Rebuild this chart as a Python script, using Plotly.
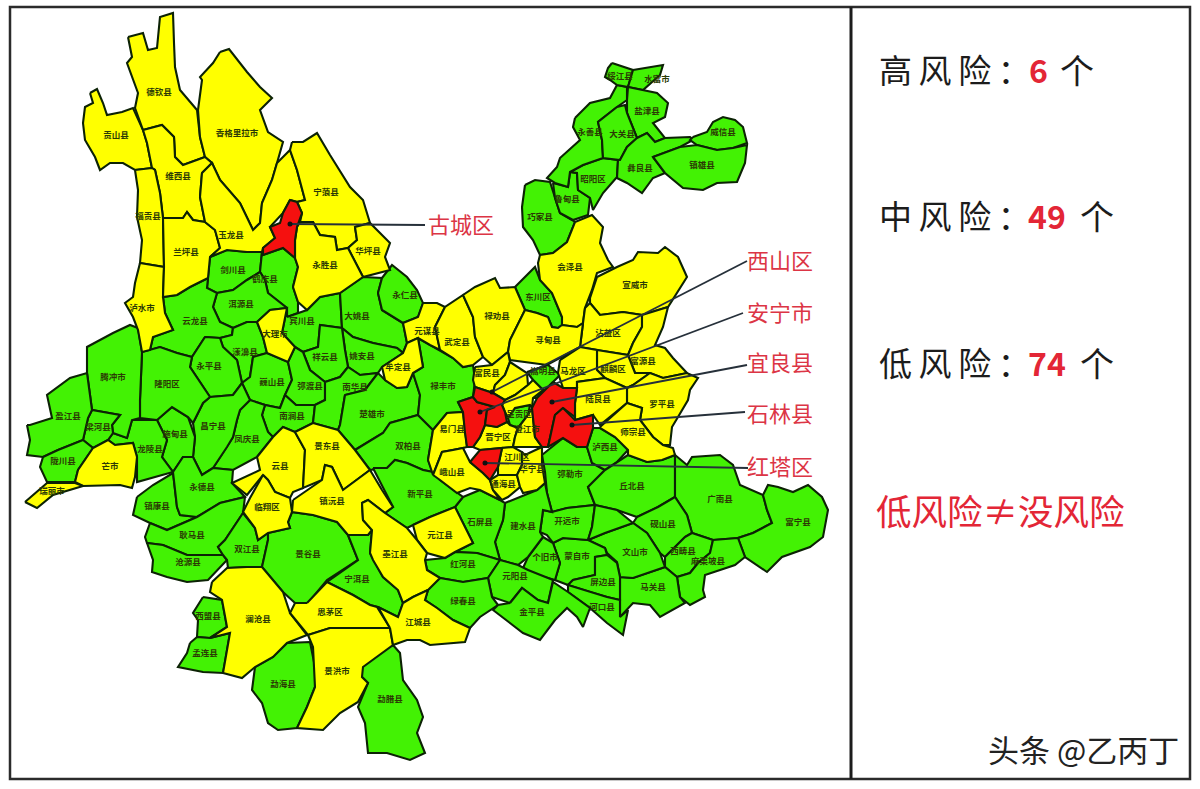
import plotly.graph_objects as go

FONT_CJK = "Noto Sans CJK SC"

RISK_COLOR = {"high": "#f5100f", "mid": "#ffff00", "low": "#43f204"}

# county outlines, in image pixels
HIGH_NAMES = ["古城区", "安宁市", "西山区", "宜良县", "石林县", "红塔区"]
HIGH_OUTLINES = [
    [(290,200),(297,202),(302,213),(297,227),(295,240),(295,258),(283,248),(277,250),(263,255),(263,248),(275,238),(270,227),(280,223),(283,213)],
    [(458,402),(473,397),(477,402),(495,407),(487,410),(485,425),(480,437),(473,447),(467,447),(465,433),(463,412)],
    [(475,387),(485,390),(493,393),(505,400),(502,405),(505,412),(507,422),(497,427),(485,425),(487,410),(495,407),(477,402),(473,397)],
    [(553,382),(563,388),(577,388),(575,403),(575,417),(563,408),(555,415),(548,447),(542,447),(535,437),(532,408),(537,398)],
    [(563,408),(575,420),(593,415),(593,428),(587,447),(577,447),(563,438),(548,447),(555,415)],
    [(470,462),(480,450),(502,448),(498,467),(490,480),(483,473)],
]

MID_NAMES = ["贡山县", "德钦县", "香格里拉市", "维西县", "福贡县", "泸水市", "兰坪县", "玉龙县", "宁蒗县", "华坪县",
             "永胜县", "大理市", "元谋县", "牟定县", "武定县", "禄劝县", "会泽县", "宣威市", "沾益区", "寻甸县",
             "富源县", "麒麟区", "马龙区", "罗平县", "陆良县", "师宗县", "富民县", "盘龙区", "官渡区", "易门县",
             "晋宁区", "澄江市", "峨山县", "通海县", "江川区", "华宁县", "芒市", "瑞丽市", "云县", "临翔区",
             "景东县", "镇沅县", "元江县", "墨江县", "澜沧县", "思茅区", "景洪市", "江城县"]
MID_OUTLINES = [
    [(90,93),(97,89),(103,103),(107,115),(122,112),(133,108),(143,130),(147,143),(152,168),(135,170),(123,163),(110,163),(100,170),(95,157),(85,140),(83,123),(85,107),(93,103)],
    [(128,37),(143,33),(148,50),(157,48),(160,17),(173,13),(174,43),(175,67),(180,90),(197,110),(200,137),(205,157),(183,165),(175,157),(174,137),(162,125),(143,130),(135,108),(138,93),(127,63),(132,57)],
    [(220,52),(229,49),(247,72),(260,87),(272,98),(260,110),(268,132),(283,142),(277,163),(272,180),(262,203),(260,223),(253,230),(240,203),(220,180),(212,163),(205,157),(200,137),(198,110),(202,80),(200,77),(213,63)],
    [(143,130),(162,125),(174,137),(175,157),(183,165),(205,157),(212,163),(202,173),(200,197),(205,222),(193,220),(187,212),(183,218),(163,218),(160,193),(155,170),(152,168),(147,143)],
    [(135,170),(152,168),(155,170),(160,193),(163,218),(164,267),(140,263),(142,240),(137,217),(138,190)],
    [(140,263),(164,267),(163,297),(165,313),(173,330),(153,337),(150,350),(142,352),(138,330),(133,317),(125,303),(133,297),(135,283)],
    [(163,218),(183,218),(187,212),(193,220),(205,222),(215,230),(220,248),(210,257),(208,278),(190,287),(177,295),(163,297),(164,267)],
    [(202,173),(212,163),(220,180),(240,203),(253,230),(260,223),(262,203),(272,180),(277,163),(290,150),(297,170),(305,200),(297,202),(290,200),(283,213),(270,227),(275,238),(263,248),(262,252),(247,252),(227,250),(210,257),(220,248),(215,230),(205,222),(200,197)],
    [(292,142),(303,142),(317,133),(330,155),(350,187),(363,200),(370,223),(355,227),(357,240),(348,248),(337,250),(335,237),(320,235),(313,222),(300,222),(302,213),(297,202),(305,200),(297,170),(290,150)],
    [(355,227),(370,223),(390,243),(385,257),(390,270),(363,277),(348,248),(357,240)],
    [(297,227),(300,222),(313,222),(320,235),(335,237),(337,250),(348,248),(363,277),(340,293),(320,297),(307,310),(298,302),(293,287),(298,267),(295,258),(295,240)],
    [(257,322),(270,310),(287,308),(282,333),(295,347),(288,362),(267,353),(263,337)],
    [(423,303),(437,303),(445,307),(435,327),(440,350),(430,345),(418,338),(407,343),(403,323),(418,317)],
    [(382,367),(403,353),(407,343),(418,338),(423,367),(413,373),(407,387),(397,388),(385,380)],
    [(435,327),(445,307),(463,295),(473,317),(475,337),(483,357),(473,365),(463,367),(453,358),(440,350)],
    [(463,295),(475,287),(495,278),(500,288),(515,287),(520,298),(525,310),(510,340),(508,352),(492,365),(483,357),(475,337),(473,317)],
    [(540,255),(553,253),(567,242),(575,222),(592,215),(603,227),(600,243),(608,260),(613,267),(597,273),(592,290),(585,308),(583,323),(577,327),(562,325),(562,317),(552,293),(540,280),(538,263)],
    [(590,298),(597,277),(617,267),(633,260),(638,252),(658,253),(665,247),(678,257),(687,277),(677,293),(668,307),(642,315),(623,312),(600,315),(590,303)],
    [(585,308),(590,303),(600,315),(623,312),(642,315),(642,327),(633,343),(628,355),(597,350),(580,347),(583,323)],
    [(525,310),(537,313),(548,317),(552,327),(558,328),(562,325),(577,327),(583,323),(580,347),(560,358),(547,365),(510,360),(508,352),(510,340)],
    [(642,315),(668,307),(663,327),(655,345),(665,348),(673,358),(687,373),(663,378),(650,373),(635,373),(628,355),(633,343),(642,327)],
    [(597,350),(628,355),(635,373),(650,373),(633,385),(627,388),(605,378),(597,370)],
    [(560,360),(580,347),(597,350),(597,370),(605,378),(577,382),(577,388),(563,388),(558,373)],
    [(650,373),(663,378),(687,373),(698,378),(690,390),(688,400),(678,417),(672,427),(670,445),(663,445),(653,437),(640,420),(642,408),(627,403),(627,388),(633,385)],
    [(577,388),(577,382),(605,378),(627,388),(627,403),(600,425),(593,415),(575,420),(575,403)],
    [(600,427),(627,403),(642,408),(640,420),(653,437),(663,445),(673,448),(675,455),(662,460),(647,462),(628,455),(628,450),(615,437),(600,428)],
    [(475,367),(492,365),(508,352),(510,362),(505,375),(495,385),(493,393),(475,387),(473,380)],
    [(510,362),(527,373),(528,385),(515,395),(505,400),(493,393),(495,385),(505,375)],
    [(528,385),(533,380),(543,390),(533,398),(532,408),(530,405),(515,408),(508,418),(505,412),(502,405),(505,400),(515,395)],
    [(433,430),(447,413),(463,412),(467,447),(463,448),(453,450),(442,452),(433,475),(428,460)],
    [(485,425),(497,427),(507,422),(510,425),(518,428),(515,437),(513,447),(502,448),(480,450),(473,447),(480,437)],
    [(518,428),(528,415),(532,408),(535,437),(542,447),(530,447),(513,447),(515,437)],
    [(433,475),(442,452),(453,450),(463,448),(470,462),(483,473),(490,480),(493,490),(500,500),(480,490),(470,488),(457,493),(440,480)],
    [(490,480),(498,475),(517,475),(520,487),(508,497),(502,500),(493,490)],
    [(498,467),(502,448),(513,447),(522,452),(522,465),(517,475),(498,475)],
    [(522,452),(525,455),(542,447),(542,465),(545,483),(537,490),(523,493),(520,487),(517,475),(522,465)],
    [(78,470),(93,448),(108,440),(115,445),(133,443),(137,457),(135,477),(132,488),(120,485),(83,486),(75,482)],
    [(25,502),(47,483),(75,483),(83,486),(53,495),(37,508)],
    [(257,457),(273,437),(283,427),(295,432),(305,450),(303,488),(293,492),(290,498),(275,492),(268,480),(263,475),(253,487),(247,495),(232,483),(260,470)],
    [(263,475),(268,480),(275,492),(290,498),(292,512),(288,522),(290,528),(268,533),(258,540),(255,528),(243,512),(250,498)],
    [(295,432),(313,423),(338,430),(355,450),(370,470),(343,490),(332,467),(325,465),(322,480),(303,488),(305,450)],
    [(293,500),(322,480),(325,465),(332,467),(343,490),(370,470),(382,490),(393,507),(385,513),(368,500),(362,503),(363,520),(372,530),(368,535),(348,535),(337,522),(313,515),(292,512)],
    [(413,525),(430,517),(455,507),(463,523),(473,543),(455,552),(445,558),(427,553),(417,540)],
    [(362,503),(368,500),(385,513),(407,528),(417,540),(427,553),(425,560),(427,570),(440,578),(428,590),(413,597),(403,603),(398,590),(383,577),(373,560),(370,553),(372,530),(363,520)],
    [(212,582),(227,568),(247,567),(262,567),(283,592),(290,613),(307,635),(287,643),(273,657),(255,667),(242,678),(223,673),(230,633),(210,638),(227,627),(222,600),(210,592)],
    [(307,603),(327,582),(353,595),(370,605),(377,607),(390,628),(353,628),(330,628),(308,635),(290,613),(295,603)],
    [(308,635),(330,628),(353,628),(390,628),(393,645),(363,667),(362,677),(368,683),(358,702),(340,713),(323,730),(297,728),(307,707),(315,687),(313,647)],
    [(390,628),(378,607),(398,617),(403,603),(413,597),(428,590),(425,600),(437,608),(453,620),(470,628),(465,642),(430,645),(420,640),(407,640),(393,645)],
]

LOW_NAMES = ["剑川县", "鹤庆县", "洱源县", "云龙县", "宾川县", "大姚县", "永仁县", "姚安县", "祥云县", "漾濞县",
             "永平县", "巍山县", "弥渡县", "南涧县", "南华县", "楚雄市", "双柏县", "禄丰市", "东川区", "巧家县",
             "鲁甸县", "昭阳区", "永善县", "绥江县", "水富市", "盐津县", "大关县", "彝良县", "威信县", "镇雄县",
             "嵩明县", "呈贡区", "弥勒市", "泸西县", "丘北县", "广南县", "富宁县", "砚山县", "西畴县", "麻栗坡县",
             "马关县", "文山市", "蒙自市", "屏边县", "河口县", "开远市", "开远南", "个旧市", "建水县", "石屏县",
             "新平县", "红河县", "元阳县", "绿春县", "金平县", "凤庆县", "昌宁县", "施甸县", "隆阳区", "龙陵县",
             "腾冲市", "梁河县", "盈江县", "陇川县", "镇康县", "永德县", "耿马县", "沧源县", "双江县", "景谷县",
             "宁洱县", "西盟县", "孟连县", "勐海县", "勐腊县"]
LOW_OUTLINES = [
    [(210,257),(227,250),(247,252),(262,252),(260,272),(247,280),(233,290),(217,293),(207,288),(208,278)],
    [(262,252),(263,255),(277,250),(283,248),(295,258),(298,267),(293,287),(298,302),(298,313),(287,317),(287,308),(268,293),(265,280),(260,272)],
    [(217,293),(233,290),(247,280),(260,272),(265,280),(268,293),(287,308),(270,310),(257,322),(247,322),(233,328),(220,322),(213,307)],
    [(163,297),(177,295),(190,287),(208,278),(207,288),(217,293),(213,307),(220,322),(233,328),(232,335),(220,338),(205,337),(192,357),(177,353),(160,347),(150,350),(153,337),(173,330),(165,313)],
    [(287,317),(298,313),(307,310),(320,297),(340,293),(342,328),(320,325),(318,347),(303,352),(295,347),(282,333),(287,308)],
    [(340,293),(363,277),(382,278),(378,293),(382,310),(403,323),(407,343),(403,353),(397,348),(373,343),(353,337),(342,328)],
    [(382,278),(392,265),(407,277),(417,290),(423,303),(418,317),(403,323),(382,310),(378,293)],
    [(342,328),(353,337),(373,343),(397,348),(403,353),(382,367),(378,373),(360,375),(348,367),(345,350)],
    [(320,325),(342,328),(345,350),(348,367),(340,377),(325,382),(310,370),(303,352),(318,347)],
    [(220,338),(232,335),(233,328),(247,322),(257,322),(263,337),(267,353),(253,357),(250,377),(242,383),(237,360),(223,347)],
    [(205,337),(220,338),(223,347),(237,360),(242,383),(233,395),(210,397),(190,367),(192,357)],
    [(253,357),(267,353),(288,362),(292,380),(285,395),(280,408),(265,405),(250,400),(242,383),(250,377)],
    [(288,362),(295,347),(303,352),(310,370),(325,382),(325,400),(315,405),(296,405),(285,395),(292,380)],
    [(285,395),(296,405),(315,405),(313,423),(295,432),(283,427),(273,437),(268,432),(262,415),(265,405),(280,408)],
    [(325,382),(340,377),(348,367),(360,375),(378,373),(365,390),(345,395),(340,425),(338,430),(313,423),(315,405),(325,400)],
    [(345,395),(365,390),(378,373),(385,380),(397,388),(407,387),(413,373),(420,395),(418,415),(390,423),(383,433),(367,443),(355,450),(338,430),(340,425)],
    [(355,450),(367,443),(383,433),(390,423),(418,415),(433,430),(428,460),(433,472),(423,470),(407,463),(395,460),(387,468),(370,470)],
    [(413,373),(423,367),(418,338),(430,345),(440,350),(453,358),(463,367),(473,365),(475,380),(473,397),(458,402),(463,412),(447,413),(433,430),(418,415),(420,395)],
    [(515,287),(535,267),(540,280),(552,293),(562,317),(562,325),(558,328),(552,327),(548,317),(537,313),(525,310),(520,298)],
    [(525,185),(535,180),(550,182),(555,198),(560,213),(572,220),(575,222),(567,242),(553,253),(540,255),(533,240),(523,227),(522,207)],
    [(553,183),(568,187),(570,172),(577,173),(578,190),(590,198),(588,215),(573,220),(560,213),(555,198)],
    [(570,172),(583,165),(603,158),(618,160),(617,177),(603,193),(593,210),(590,198),(578,190),(577,173)],
    [(575,118),(590,103),(610,98),(617,85),(627,87),(627,100),(617,107),(598,122),(602,140),(603,158),(583,165),(570,172),(568,187),(555,183),(547,178),(557,167),(560,158),(580,140),(573,127)],
    [(612,63),(633,70),(628,87),(617,85),(610,80),(605,77),(608,68)],
    [(633,70),(663,65),(660,75),(643,90),(628,87)],
    [(628,87),(643,90),(657,93),(668,103),(665,117),(653,123),(665,138),(655,142),(647,133),(637,138),(627,113),(627,100)],
    [(617,107),(625,105),(627,113),(637,138),(627,147),(620,160),(603,158),(602,140),(598,122)],
    [(637,138),(647,133),(655,142),(665,138),(690,137),(693,140),(680,147),(653,157),(665,173),(653,178),(642,193),(627,183),(617,178),(618,160),(620,160),(627,147)],
    [(693,137),(707,132),(713,122),(723,117),(735,120),(743,127),(747,143),(733,148),(717,150),(697,145),(690,140)],
    [(653,157),(680,147),(697,145),(717,150),(733,148),(747,145),(745,163),(737,182),(717,183),(703,190),(683,188),(670,177),(665,173)],
    [(527,372),(548,365),(560,375),(553,382),(537,398),(533,398),(543,390),(533,380),(527,373)],
    [(508,418),(515,408),(530,405),(528,415),(518,428),(510,425)],
    [(542,455),(563,438),(577,447),(587,447),(592,463),(605,470),(588,487),(595,505),(567,508),(552,512),(547,493),(545,472)],
    [(587,447),(593,428),(600,428),(615,437),(628,450),(617,462),(605,470),(592,463)],
    [(605,470),(617,462),(628,455),(647,462),(662,460),(675,455),(675,497),(658,507),(637,517),(617,510),(595,505),(588,487)],
    [(675,455),(687,465),(692,457),(720,455),(733,465),(740,485),(763,495),(767,510),(772,523),(753,533),(738,538),(713,540),(692,533),(687,515),(675,497)],
    [(763,495),(768,485),(778,487),(793,492),(808,485),(822,497),(828,510),(823,537),(810,547),(782,557),(767,572),(745,557),(738,538),(753,533),(772,523),(767,510)],
    [(637,517),(658,507),(675,497),(687,515),(692,533),(685,537),(665,557),(660,553),(647,533),(633,523)],
    [(685,537),(692,533),(713,540),(710,553),(698,563),(690,573),(677,577),(665,567),(665,557)],
    [(713,540),(738,538),(745,557),(735,565),(705,575),(703,590),(705,597),(690,605),(680,597),(677,577),(690,573),(698,563),(710,553)],
    [(620,577),(633,578),(665,567),(677,577),(680,597),(685,603),(660,617),(650,605),(633,603),(620,617),(620,600)],
    [(605,533),(633,523),(647,533),(660,553),(665,567),(633,578),(620,577),(617,562),(607,553),(605,548),(588,540)],
    [(553,543),(563,538),(588,540),(605,548),(607,555),(595,557),(595,575),(573,580),(568,585),(555,580),(560,563)],
    [(595,557),(607,555),(617,563),(620,577),(620,600),(607,597),(590,592),(568,585),(573,580),(595,575)],
    [(568,585),(590,592),(607,597),(620,600),(620,617),(628,610),(623,635),(607,623),(590,608),(568,592)],
    [(543,510),(552,512),(567,508),(595,505),(592,527),(588,540),(563,538),(553,543),(547,535),(540,532),(542,518)],
    [(595,505),(617,510),(633,523),(605,533),(588,540),(592,527)],
    [(528,557),(543,537),(553,543),(560,563),(555,580),(537,575),(523,568)],
    [(505,503),(520,497),(537,490),(545,483),(547,493),(552,512),(543,510),(542,518),(540,532),(543,537),(528,557),(518,565),(500,560),(495,542),(503,520)],
    [(463,497),(480,490),(500,500),(505,503),(503,520),(495,542),(500,560),(477,553),(455,552),(473,543),(463,523),(455,507)],
    [(373,468),(387,468),(395,460),(407,463),(423,470),(433,472),(440,480),(457,493),(463,497),(455,507),(430,517),(413,525),(407,528),(385,513),(393,507)],
    [(425,560),(445,558),(455,552),(477,553),(500,560),(488,578),(463,582),(440,578),(427,570)],
    [(500,560),(518,565),(528,570),(553,580),(548,603),(538,600),(522,588),(510,603),(492,597),(488,578)],
    [(440,578),(463,582),(488,578),(492,597),(498,605),(480,617),(470,628),(453,620),(437,608),(425,600),(428,590)],
    [(510,603),(522,588),(538,600),(548,603),(553,582),(568,592),(590,608),(583,627),(577,617),(567,608),(555,620),(540,640),(523,633),(493,610),(498,605)],
    [(240,410),(250,400),(265,405),(262,415),(268,432),(273,437),(257,457),(233,470),(213,468),(227,447),(233,437),(237,420)],
    [(210,397),(233,395),(242,383),(250,400),(240,410),(237,420),(233,437),(227,447),(213,468),(202,475),(193,457),(195,437),(193,423),(203,403)],
    [(157,420),(172,407),(188,417),(195,437),(193,457),(183,457),(173,472),(162,457),(167,440)],
    [(142,352),(150,350),(160,347),(177,353),(192,357),(190,367),(210,397),(203,403),(193,423),(188,417),(172,407),(157,420),(140,418),(140,400)],
    [(113,433),(127,438),(132,420),(157,420),(167,440),(162,457),(173,472),(137,482),(137,457),(133,443),(115,445),(108,440)],
    [(87,373),(87,347),(113,333),(130,325),(138,328),(142,352),(140,400),(140,418),(132,420),(127,438),(113,433),(112,425),(120,415),(92,410),(90,395)],
    [(83,440),(88,418),(92,410),(120,415),(112,425),(113,433),(108,440),(93,448)],
    [(27,425),(30,425),(52,418),(47,395),(70,378),(87,373),(90,395),(92,410),(88,418),(83,440),(58,450),(43,457),(27,455),(30,440)],
    [(43,457),(58,450),(83,440),(93,448),(78,470),(75,482),(47,482),(40,467)],
    [(137,497),(153,485),(173,473),(177,507),(180,515),(197,517),(167,530),(150,523),(133,515)],
    [(173,472),(183,457),(193,457),(202,475),(213,468),(233,470),(232,483),(245,497),(220,503),(197,517),(180,515),(177,507)],
    [(150,523),(167,530),(197,517),(220,503),(245,497),(243,513),(225,540),(218,547),(223,555),(197,555),(187,555),(163,545),(147,543),(145,537)],
    [(147,543),(163,545),(187,555),(223,555),(227,560),(208,580),(187,582),(167,577),(152,572),(153,560)],
    [(243,513),(255,528),(258,540),(268,533),(268,540),(263,563),(262,567),(247,567),(228,568),(227,560),(223,555),(218,547),(225,540)],
    [(268,533),(290,528),(288,522),(292,512),(313,515),(337,522),(348,535),(358,560),(327,580),(308,603),(295,603),(283,592),(262,567),(268,540)],
    [(348,535),(368,535),(372,530),(370,553),(383,577),(398,590),(403,603),(398,617),(378,607),(370,605),(353,595),(327,582),(358,560)],
    [(203,597),(222,600),(227,627),(210,638),(197,637),(198,620),(193,613)],
    [(190,643),(197,637),(210,638),(230,633),(223,673),(203,672),(178,667),(187,653)],
    [(310,642),(315,667),(315,687),(307,707),(297,728),(278,730),(268,723),(262,703),(252,690),(255,667),(273,657),(287,643)],
    [(360,670),(373,655),(393,645),(400,653),(403,680),(417,700),(423,717),(417,733),(425,753),(410,760),(387,753),(368,753),(365,723),(358,707),(368,683),(362,677)],
]

LABEL_NAMES = ["德钦县","贡山县","香格里拉市","维西县","福贡县","兰坪县","玉龙县","宁蒗县","华坪县","永胜县","泸水市","剑川县","鹤庆县","洱源县","云龙县","宾川县","大姚县","永仁县","大理市","漾濞县","永平县","巍山县","祥云县","姚安县","牟定县","弥渡县","南华县","腾冲市","隆阳区",
               "盈江县","梁河县","施甸县","昌宁县","凤庆县","南涧县","楚雄市","双柏县","龙陵县","陇川县","芒市","瑞丽市","云县","景东县","永德县","镇康县","临翔区","镇沅县","新平县","耿马县","双江县","景谷县","沧源县","墨江县","宁洱县","澜沧县","西盟县","孟连县","思茅区","江城县","勐海县","景洪市","勐腊县","元江县",
               "石屏县","建水县","开远市","弥勒市","丘北县","广南县","富宁县","砚山县","文山市","蒙自市","个旧市","红河县","元阳县","绿春县","金平县","屏边县","河口县","马关县","西畴县","麻栗坡县","泸西县","师宗县","峨山县","易门县","晋宁区","通海县","江川区","华宁县","澄江市",
               "宣威市","会泽县","东川区","禄劝县","武定县","元谋县","寻甸县","沾益区","富源县","麒麟区","马龙区","罗平县","陆良县","禄丰市","巧家县","鲁甸县","昭阳区","彝良县","镇雄县","威信县","盐津县","大关县","永善县","绥江县","水富市","嵩明县","呈贡区","富民县"]
LABEL_X = [159,116,237,178,148,186,231,326,368,325,142,233,265,241,195,302,357,405,275,245,209,272,325,362,398,310,355,113,167,
           68,98,175,213,247,292,372,408,150,63,110,52,280,327,202,157,267,332,420,192,247,308,188,395,357,258,208,205,330,418,283,337,390,440,
           480,523,567,570,632,720,798,663,635,577,545,463,515,463,532,603,602,653,683,708,605,633,452,452,498,503,517,532,527,
           635,570,538,497,457,427,548,608,643,613,573,662,598,443,540,567,593,640,702,723,647,622,590,620,657,543,519,487]
LABEL_Y = [93,136,134,177,217,253,236,193,252,266,309,271,280,305,322,322,317,296,335,353,367,383,358,357,368,387,388,378,385,
           417,428,435,427,440,417,415,447,450,462,467,492,467,447,488,507,508,502,495,536,550,555,563,555,580,620,617,654,613,623,685,672,700,536,
           523,527,522,475,487,500,523,525,553,557,558,565,577,602,613,583,608,588,552,562,448,433,473,430,438,485,458,470,430,
           286,268,298,317,343,332,341,334,362,370,372,405,400,387,218,200,180,169,166,133,112,135,133,77,80,372,415,374]

# leader lines from the six high risk counties to their names
LEADER_NAMES = ["古城区", "西山区", "安宁市", "宜良县", "石林县", "红塔区"]
LEADER_START_X = [290, 492, 480, 552, 572, 485]
LEADER_START_Y = [224, 392, 412, 402, 425, 463]
LEADER_END_X = [425, 747, 743, 747, 745, 748]
LEADER_END_Y = [225, 261, 313, 365, 412, 468]
LEADER_TEXT_X = [461, 780, 780, 780, 780, 780]
LEADER_TEXT_Y = [223, 259, 311, 361, 412, 465]

PANEL_ROWS = ["高\u2009风\u2009险\u2009：", "中\u2009风\u2009险\u2009：", "低\u2009风\u2009险\u2009："]
PANEL_COUNTS = ["6", "49", "74"]
PANEL_Y = [69, 215, 362]
PANEL_COUNT_X = [1038, 1047, 1047]
PANEL_UNIT_X = [1077, 1097, 1097]

fig = go.Figure()


def add_counties(outlines, names, risk):
    for name, outline in zip(names, outlines):
        fig.add_trace(go.Scatter(
            x=[p[0] for p in outline] + [outline[0][0]],
            y=[p[1] for p in outline] + [outline[0][1]],
            mode="lines",
            fill="toself",
            fillcolor=RISK_COLOR[risk],
            line=dict(color="#0c2205", width=2.1),
            name=name,
            hoverinfo="name",
            showlegend=False,
        ))


add_counties(LOW_OUTLINES, LOW_NAMES, "low")
add_counties(MID_OUTLINES, MID_NAMES, "mid")
add_counties(HIGH_OUTLINES, HIGH_NAMES, "high")

fig.add_trace(go.Scatter(
    x=LABEL_X, y=LABEL_Y, text=["<b>" + n + "</b>" for n in LABEL_NAMES], mode="text",
    textfont=dict(family=FONT_CJK, size=8.5, color="#2b3a05"),
    hoverinfo="skip", showlegend=False,
))

for x0, y0, x1, y1 in zip(LEADER_START_X, LEADER_START_Y, LEADER_END_X, LEADER_END_Y):
    fig.add_trace(go.Scatter(
        x=[x0, x1], y=[y0, y1], mode="lines",
        line=dict(color="#26303a", width=1.8),
        hoverinfo="skip", showlegend=False,
    ))
fig.add_trace(go.Scatter(
    x=LEADER_START_X, y=LEADER_START_Y, mode="markers",
    marker=dict(color="#111111", size=5),
    hoverinfo="skip", showlegend=False,
))

annotations = []


def add_text(x, y, text, size, color, bold=False):
    if bold:
        text = "<b>" + text + "</b>"
    annotations.append(dict(
        x=x, y=y, xref="x", yref="y", text=text, showarrow=False,
        xanchor="center", yanchor="middle",
        font=dict(family=FONT_CJK, size=size, color=color),
    ))


for name, x, y in zip(LEADER_NAMES, LEADER_TEXT_X, LEADER_TEXT_Y):
    add_text(x, y, name, 22, "#dc3545")

for row, count, y, count_x, unit_x in zip(PANEL_ROWS, PANEL_COUNTS, PANEL_Y, PANEL_COUNT_X, PANEL_UNIT_X):
    add_text(955, y, row, 33, "#1c1c1c")
    add_text(count_x, y, count, 32, "#e32636", bold=True)
    add_text(unit_x, y, "个", 34, "#1c1c1c")
add_text(1000, 509, "低风险≠没风险", 35.5, "#e32636")
add_text(1083, 748, "头条 @乙丙丁", 31, "#222222")

fig.update_layout(
    width=1200, height=789,
    margin=dict(l=0, r=0, t=0, b=0),
    paper_bgcolor="white", plot_bgcolor="white",
    xaxis=dict(range=[0, 1200], visible=False, fixedrange=True),
    yaxis=dict(range=[789, 0], visible=False, fixedrange=True),
    annotations=annotations,
    shapes=[
        dict(type="rect", x0=10, y0=7, x1=1190, y1=779, line=dict(color="#2b2b2b", width=2.5)),
        dict(type="line", x0=851, y0=7, x1=851, y1=779, line=dict(color="#1c1c1c", width=3)),
    ],
)

fig.write_html("out.html", config={"displayModeBar": False},
               post_script="document.body.style.margin='0';document.body.style.overflow='hidden';")
